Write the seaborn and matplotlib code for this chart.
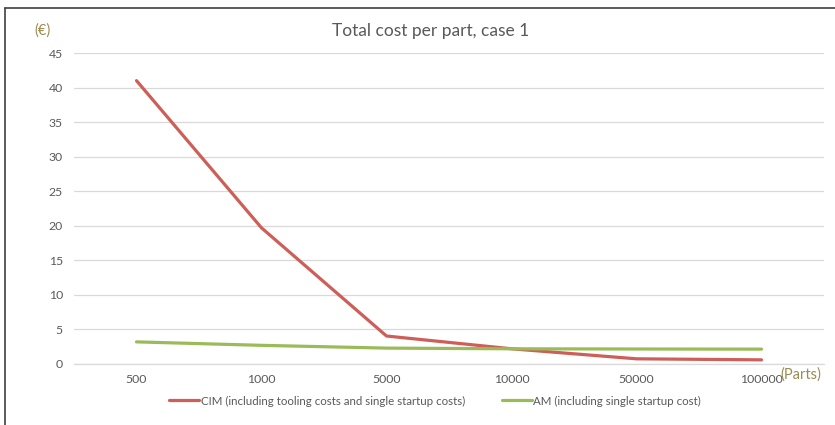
import matplotlib
matplotlib.use("Agg")
import matplotlib.pyplot as plt
import seaborn as sns
import pandas as pd

# Production volumes (parts) and total cost per part (EUR)
volumes = ["500", "1000", "5000", "10000", "50000", "100000"]
cim_cost = [41.0, 19.7, 4.05, 2.2, 0.75, 0.6]
am_cost = [3.2, 2.7, 2.3, 2.2, 2.17, 2.15]
series_names = ["CIM (including tooling costs and single startup costs)",
                "AM (including single startup cost)"]
y_ticks = [0, 5, 10, 15, 20, 25, 30, 35, 40, 45]

df = pd.DataFrame({
    "Parts": volumes * 2,
    "Cost": cim_cost + am_cost,
    "Series": [series_names[0]] * len(volumes) + [series_names[1]] * len(volumes),
})

sns.set_theme(style="white")
plt.rcParams["font.family"] = ["Lato", "DejaVu Sans"]

text_grey = "#595959"
olive = "#9C8B52"
palette = {series_names[0]: "#CD5F58", series_names[1]: "#9BBB59"}

fig = plt.figure(figsize=(8.35, 4.25), dpi=100)
ax = fig.add_axes([74 / 835, 1 - 364 / 425, 750 / 835, 311 / 425])

sns.lineplot(data=df, x="Parts", y="Cost", hue="Series", palette=palette,
             sort=False, linewidth=2.3, ax=ax, legend=False)

ax.set_xlim(-0.5, len(volumes) - 0.5)
ax.set_ylim(0, 45)
ax.set_yticks(y_ticks)
ax.set_yticklabels([str(t) for t in y_ticks])
ax.set_xticks(range(len(volumes)))
ax.set_xticklabels(volumes)
ax.grid(axis="y", color="#D9D9D9", linewidth=0.9)
ax.grid(axis="x", visible=False)
for side in ["top", "right", "left"]:
    ax.spines[side].set_visible(False)
ax.spines["bottom"].set_color("#D9D9D9")
ax.spines["bottom"].set_linewidth(0.9)
ax.tick_params(axis="both", length=0, labelsize=8.8, colors=text_grey)
ax.tick_params(axis="y", pad=8)
ax.tick_params(axis="x", pad=7)
ax.set_xlabel("")
ax.set_ylabel("")

fig.text(0.516, 1 - 31 / 425, "Total cost per part, case 1", ha="center",
         va="center", fontsize=12.5, color=text_grey)
fig.text(34 / 835, 1 - 31 / 425, "(€)", ha="left", va="center",
         fontsize=10.5, color=olive)
fig.text(780 / 835, 1 - 375 / 425, "(Parts)", ha="left", va="center",
         fontsize=10.5, color=olive)

handles = [plt.Line2D([], [], color=palette[n], linewidth=2.3) for n in series_names]
fig.legend(handles, series_names, loc="center", bbox_to_anchor=(435 / 835, 1 - 401 / 425),
           ncol=2, frameon=False, fontsize=8.3, labelcolor=text_grey,
           handlelength=2.6, handletextpad=0.1, columnspacing=3.2)

# outer chart frame
fig.add_artist(plt.Line2D([5 / 835, 5 / 835], [0, 1 - 8 / 425], transform=fig.transFigure,
                          color="#404040", linewidth=1.2))
fig.add_artist(plt.Line2D([5 / 835, 1], [1 - 8 / 425, 1 - 8 / 425], transform=fig.transFigure,
                          color="#404040", linewidth=1.2))

fig.savefig("out.png", dpi=100)
